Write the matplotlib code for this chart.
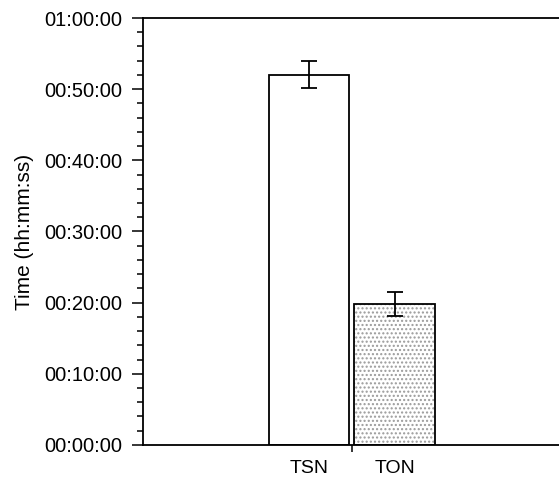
import matplotlib
matplotlib.use("Agg")
import matplotlib.pyplot as plt
from matplotlib.ticker import FuncFormatter, MultipleLocator

plt.rcParams['font.family'] = ['Liberation Sans', 'DejaVu Sans']

groups = ["TSN", "TON"]
minutes = [52.0, 19.8]     # mean time in minutes
errors = [1.9, 1.7]        # error bar half-length in minutes

fig = plt.figure(figsize=(5.59, 4.8), dpi=100)
ax = fig.add_axes([0.256, 0.073, 0.744, 0.8895])

xs = [0, 1]
w = 0.94
# TSN white bar
ax.bar(xs[0], minutes[0], width=w, facecolor="white", edgecolor="black", linewidth=1.3)
# TON stippled bar: grey dots then black outline
ax.bar(xs[1], minutes[1], width=w, facecolor="white", edgecolor="#9a9a9a", hatch="....", linewidth=0)
ax.bar(xs[1], minutes[1], width=w, fill=False, edgecolor="black", linewidth=1.3)
ax.errorbar(xs, minutes, yerr=errors, fmt="none", ecolor="black", elinewidth=1.3,
            capsize=6, capthick=1.3)

ax.set_xlim(-1.94, 2.92)
ax.set_ylim(0, 60)

def hms(v, pos):
    m = int(round(v))
    return f"{m // 60:02d}:{m % 60:02d}:00"

ax.yaxis.set_major_locator(MultipleLocator(10))
ax.yaxis.set_minor_locator(MultipleLocator(2))
ax.yaxis.set_major_formatter(FuncFormatter(hms))
ax.tick_params(axis="y", which="major", length=8, width=1.1, labelsize=14.5, pad=7)
ax.tick_params(axis="y", which="minor", length=4, width=1.1)

ax.set_xticks([0.5])
ax.set_xticklabels([""])
ax.set_xticks(xs, minor=True)
ax.set_xticklabels(groups, minor=True)
ax.tick_params(axis="x", which="major", length=5, width=1.1)
ax.tick_params(axis="x", which="minor", length=0, labelsize=14, pad=11)

ax.set_ylabel("Time (hh:mm:ss)", fontsize=15, labelpad=7)

for s in ["left", "bottom", "top"]:
    ax.spines[s].set_linewidth(1.3)
ax.spines["right"].set_visible(False)

fig.savefig("out.png", dpi=100)
